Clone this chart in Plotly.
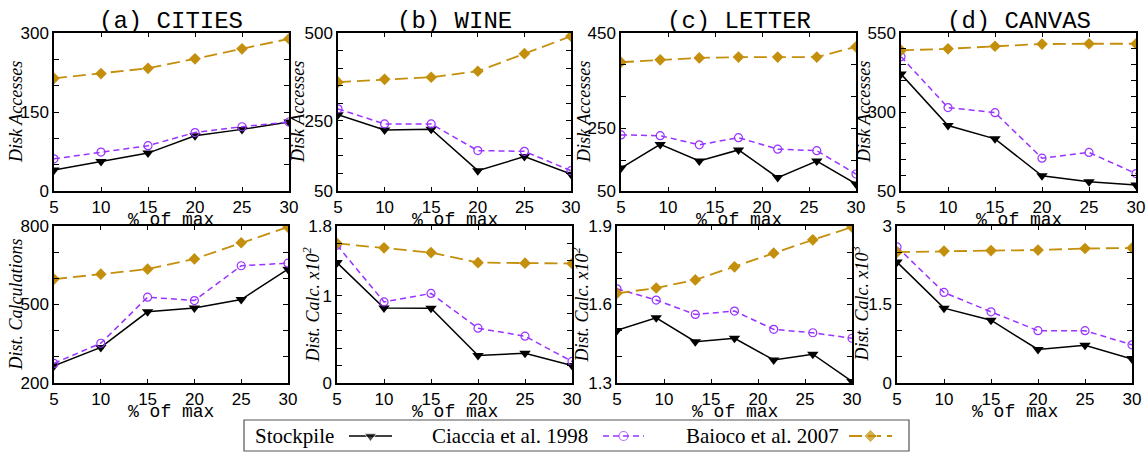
import plotly.graph_objects as go

# ---------------- data ----------------
x6 = [5, 10, 15, 20, 25, 30]
x7 = [5, 9.17, 13.33, 17.5, 21.67, 25.83, 30]
x_ticks = [5, 10, 15, 20, 25, 30]
x_ticktext = ["5", "10", "15", "20", "25", "30"]

series_names = ["Stockpile", "Ciaccia et al. 1998", "Baioco et al. 2007"]
panel_titles = ["(a) CITIES", "(b) WINE", "(c) LETTER", "(d) CANVAS"]

cities_da_stock = [40, 56, 72, 105, 117, 131]
cities_da_ciac = [61, 74, 86, 111, 122, 131]
cities_da_baio = [214, 223, 233, 251, 270, 289]

wine_da_stock = [267, 224, 226, 108, 148, 98]
wine_da_ciac = [284, 241, 241, 165, 163, 108]
wine_da_baio = [360, 368, 374, 391, 441, 491]

letter_da_stock = [108, 168, 126, 154, 84, 126, 68]
letter_da_ciac = [192, 190, 167, 185, 156, 152, 93]
letter_da_baio = [376, 382, 387, 389, 389, 389, 415]

canvas_da_stock = [420, 257, 215, 98, 79, 69]
canvas_da_ciac = [475, 314, 298, 154, 172, 105]
canvas_da_baio = [495, 500, 508, 515, 516, 516]

cities_dc_stock = [266, 336, 472, 487, 519, 635]
cities_dc_ciac = [275, 352, 528, 515, 648, 658]
cities_dc_baio = [597, 616, 635, 674, 736, 796]

wine_dc_stock = [1.38, 0.86, 0.856, 0.316, 0.342, 0.20]
wine_dc_ciac = [1.58, 0.93, 1.027, 0.628, 0.537, 0.247]
wine_dc_baio = [1.60, 1.55, 1.495, 1.38, 1.374, 1.37]

letter_dc_stock = [1.501, 1.549, 1.458, 1.471, 1.388, 1.410, 1.306]
letter_dc_ciac = [1.660, 1.617, 1.562, 1.575, 1.505, 1.492, 1.471]
letter_dc_baio = [1.643, 1.663, 1.694, 1.744, 1.796, 1.847, 1.896]

canvas_dc_stock = [2.31, 1.43, 1.20, 0.64, 0.72, 0.46]
canvas_dc_ciac = [2.60, 1.73, 1.36, 1.00, 1.00, 0.73]
canvas_dc_baio = [2.50, 2.52, 2.53, 2.54, 2.57, 2.58]

# y tick values / labels per panel
yt_cities_da = [0, 50, 100, 150, 200, 250, 300]
yl_cities_da = ["0", "", "", "150", "", "", "300"]
yt_wine_da = [50, 100, 150, 200, 250, 300, 350, 400, 450, 500]
yl_wine_da = ["50", "", "", "", "250", "", "", "", "", "500"]
yt_letter_da = [50, 128, 209, 290, 371, 450]
yl_letter_da = ["50", "", "250", "", "", "450"]
yt_canvas_da = [50, 100, 150, 200, 250, 300, 350, 400, 450, 500, 550]
yl_canvas_da = ["50", "", "", "", "", "300", "", "", "", "", "550"]
yt_cities_dc = [200, 300, 400, 500, 600, 700, 800]
yl_cities_dc = ["200", "", "", "500", "", "", "800"]
yt_wine_dc = [0, 0.2, 0.4, 0.6, 0.8, 1.0, 1.2, 1.4, 1.6, 1.8]
yl_wine_dc = ["0", "", "", "", "", "1", "", "", "", "1.8"]
yt_letter_dc = [1.3, 1.4, 1.5, 1.6, 1.7, 1.8, 1.9]
yl_letter_dc = ["1.3", "", "", "1.6", "", "", "1.9"]
yt_canvas_dc = [0, 0.5, 1.0, 1.5, 2.0, 2.5, 3.0]
yl_canvas_dc = ["0", "", "", "1.5", "", "", "3"]

# ---------------- layout geometry (pixels) ----------------
W, H = 1146, 452
BLACK = "#000000"
PURPLE = "#9933ff"
GOLD = "#c48f0c"

panels = [
    (x6, [cities_da_stock, cities_da_ciac, cities_da_baio], [0, 300], yt_cities_da, yl_cities_da,
     "Disk Accesses", 54, 289, 0, 16),
    (x6, [wine_da_stock, wine_da_ciac, wine_da_baio], [50, 500], yt_wine_da, yl_wine_da,
     "Disk Accesses", 338, 571, 0, 298),
    (x7, [letter_da_stock, letter_da_ciac, letter_da_baio], [50, 450], yt_letter_da, yl_letter_da,
     "Disk Accesses", 621, 856, 0, 584),
    (x6, [canvas_da_stock, canvas_da_ciac, canvas_da_baio], [50, 550], yt_canvas_da, yl_canvas_da,
     "Disk Accesses", 901, 1136, 0, 864),
    (x6, [cities_dc_stock, cities_dc_ciac, cities_dc_baio], [200, 800], yt_cities_dc, yl_cities_dc,
     "Dist. Calculations", 54, 288, 1, 15),
    (x6, [wine_dc_stock, wine_dc_ciac, wine_dc_baio], [0, 1.8], yt_wine_dc, yl_wine_dc,
     "Dist. Calc. x10<sup>2</sup>", 337, 572, 1, 312),
    (x7, [letter_dc_stock, letter_dc_ciac, letter_dc_baio], [1.3, 1.9], yt_letter_dc, yl_letter_dc,
     "Dist. Calc. x10<sup>2</sup>", 617, 852, 1, 581),
    (x6, [canvas_dc_stock, canvas_dc_ciac, canvas_dc_baio], [0, 3], yt_canvas_dc, yl_canvas_dc,
     "Dist. Calc. x10<sup>3</sup>", 897, 1132, 1, 861),
]
row_px = [(33, 191), (226, 383)]

styles = [
    dict(line=dict(color=BLACK, width=1.5, dash="solid"),
         marker=dict(symbol="triangle-down", size=10, color=BLACK)),
    dict(line=dict(color=PURPLE, width=1.5, dash="6px,4px"),
         marker=dict(symbol="circle-open", size=8, color=PURPLE, line=dict(width=1.2))),
    dict(line=dict(color=GOLD, width=1.8, dash="13px,6px"),
         marker=dict(symbol="diamond", size=9, color=GOLD)),
]

tick_font = dict(family="Liberation Sans", size=17, color=BLACK)
mono = "Liberation Mono"
serif = "Liberation Serif"

fig = go.Figure()
layout = {}
annotations = []

for i, (xs, ser, yr, ytv, ytl, ytitle, pl, pr, row, ytx) in enumerate(panels):
    k = i + 1
    xa = "x" if k == 1 else f"x{k}"
    ya = "y" if k == 1 else f"y{k}"
    xkey = "xaxis" if k == 1 else f"xaxis{k}"
    ykey = "yaxis" if k == 1 else f"yaxis{k}"
    top, bot = row_px[row]
    for s, (vals, st) in enumerate(zip(ser, styles)):
        fig.add_trace(go.Scatter(x=xs, y=vals, mode="lines+markers", xaxis=xa, yaxis=ya,
                                 line=st["line"], marker=st["marker"], showlegend=False,
                                 name=series_names[s]))
    common = dict(ticks="inside", tickwidth=1, tickcolor=BLACK, showline=True,
                  linecolor=BLACK, linewidth=1.5, mirror="ticks", showgrid=False,
                  zeroline=False, tickfont=tick_font, fixedrange=True, automargin=False)
    layout[xkey] = dict(domain=[pl / W, pr / W], range=[5, 30], anchor=ya,
                        tickvals=x_ticks, ticktext=x_ticktext, ticklen=4, **common)
    layout[ykey] = dict(domain=[1 - bot / H, 1 - top / H], range=yr, anchor=xa,
                        tickvals=ytv, ticktext=ytl, ticklen=5, **common)
    annotations.append(dict(text=f"<i>{ytitle}</i>", xref="paper", yref="paper",
                            x=ytx / W, y=1 - ((top + bot) / 2) / H, showarrow=False,
                            textangle=-90, xanchor="center", yanchor="middle",
                            font=dict(family=serif, size=18, color=BLACK)))
    annotations.append(dict(text="% of max", xref="paper", yref="paper",
                            x=((pl + pr) / 2) / W, y=1 - (bot + 29) / H, showarrow=False,
                            xanchor="center", yanchor="middle",
                            font=dict(family=mono, size=18, color=BLACK)))
    if row == 0:
        annotations.append(dict(text=panel_titles[i], xref="paper", yref="paper",
                                x=((pl + pr) / 2) / W, y=1 - 21 / H, showarrow=False,
                                xanchor="center", yanchor="middle",
                                font=dict(family=mono, size=24, color=BLACK)))

# ---------------- custom legend (text followed by key) ----------------
LEG_L, LEG_R, LEG_T, LEG_B = 244, 909, 420, 451
leg_text_x = [253, 430, 684]
leg_key = [(349, 392), (603, 644), (849, 892)]
leg_y = 436
layout["xaxis9"] = dict(domain=[LEG_L / W, LEG_R / W], range=[LEG_L, LEG_R], visible=False,
                        anchor="y9", fixedrange=True, automargin=False)
layout["yaxis9"] = dict(domain=[1 - LEG_B / H, 1 - LEG_T / H], range=[LEG_B, LEG_T],
                        visible=False, anchor="x9", fixedrange=True, automargin=False)
for s, st in enumerate(styles):
    a, b = leg_key[s]
    mk = dict(st["marker"])
    mk["size"] = [0, mk["size"] + 1, 0]
    fig.add_trace(go.Scatter(x=[a, (a + b) / 2, b], y=[leg_y] * 3, mode="lines+markers",
                             xaxis="x9", yaxis="y9", line=st["line"], marker=mk,
                             showlegend=False, hoverinfo="skip", cliponaxis=False))
    annotations.append(dict(text=series_names[s], xref="paper", yref="paper",
                            x=leg_text_x[s] / W, y=1 - leg_y / H, showarrow=False,
                            xanchor="left", yanchor="middle",
                            font=dict(family=serif, size=21, color=BLACK)))

shapes = [dict(type="rect", xref="paper", yref="paper", x0=LEG_L / W, x1=LEG_R / W,
               y0=1 - LEG_B / H, y1=1 - LEG_T / H, line=dict(color="#555555", width=1.2),
               fillcolor="rgba(0,0,0,0)", layer="below")]

fig.update_layout(width=W, height=H, margin=dict(l=0, r=0, t=0, b=0, pad=0),
                  paper_bgcolor="white", plot_bgcolor="rgba(0,0,0,0)",
                  annotations=annotations, shapes=shapes, showlegend=False, **layout)

fig.write_html("out.html", config={"displayModeBar": False},
               post_script="document.body.style.margin='0px';document.body.style.overflow='hidden';")
